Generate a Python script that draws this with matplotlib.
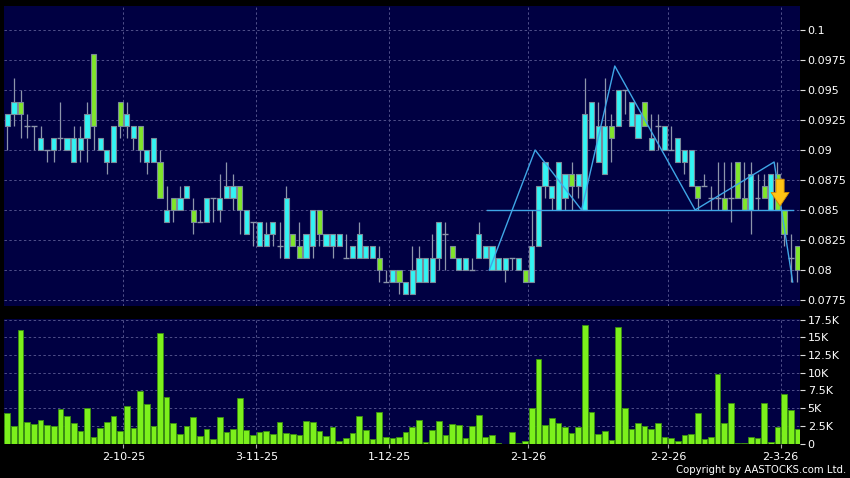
import matplotlib
matplotlib.use('Agg')
import matplotlib.pyplot as plt
import numpy as np

# daily OHLC (HKD), 120 trading days
opens = [0.092, 0.093, 0.094, 0.092, 0.092, 0.090, 0.090, 0.090, 0.091, 0.090,
         0.089, 0.090, 0.091, 0.098, 0.090, 0.089, 0.089, 0.094, 0.092, 0.091,
         0.092, 0.089, 0.089, 0.089, 0.084, 0.086, 0.085, 0.086, 0.085, 0.084,
         0.084, 0.086, 0.085, 0.086, 0.086, 0.087, 0.083, 0.084, 0.082, 0.082,
         0.083, 0.082, 0.081, 0.083, 0.082, 0.081, 0.082, 0.085, 0.082, 0.082,
         0.082, 0.081, 0.081, 0.081, 0.081, 0.081, 0.081, 0.079, 0.079, 0.080,
         0.078, 0.078, 0.079, 0.079, 0.079, 0.081, 0.083, 0.082, 0.080, 0.080,
         0.080, 0.081, 0.081, 0.080, 0.080, 0.080, 0.081, 0.080, 0.080, 0.079,
         0.082, 0.087, 0.086, 0.085, 0.086, 0.088, 0.087, 0.085, 0.091, 0.089,
         0.088, 0.092, 0.092, 0.095, 0.092, 0.091, 0.094, 0.090, 0.092, 0.090,
         0.090, 0.089, 0.089, 0.087, 0.087, 0.087, 0.086, 0.086, 0.086, 0.086,
         0.089, 0.086, 0.085, 0.086, 0.087, 0.085, 0.088, 0.085, 0.081, 0.082]
highs = [0.093, 0.096, 0.095, 0.093, 0.092, 0.092, 0.090, 0.091, 0.094, 0.091,
         0.092, 0.092, 0.094, 0.098, 0.091, 0.090, 0.092, 0.094, 0.094, 0.092,
         0.092, 0.090, 0.091, 0.090, 0.087, 0.086, 0.087, 0.087, 0.086, 0.085,
         0.086, 0.086, 0.088, 0.089, 0.088, 0.087, 0.085, 0.084, 0.084, 0.084,
         0.084, 0.084, 0.087, 0.083, 0.084, 0.083, 0.085, 0.085, 0.083, 0.083,
         0.083, 0.083, 0.082, 0.084, 0.082, 0.082, 0.082, 0.080, 0.080, 0.080,
         0.079, 0.082, 0.082, 0.081, 0.083, 0.084, 0.084, 0.082, 0.081, 0.081,
         0.081, 0.084, 0.082, 0.082, 0.081, 0.081, 0.081, 0.081, 0.080, 0.085,
         0.087, 0.089, 0.087, 0.089, 0.088, 0.089, 0.088, 0.096, 0.094, 0.094,
         0.096, 0.093, 0.095, 0.095, 0.094, 0.093, 0.094, 0.093, 0.093, 0.092,
         0.092, 0.091, 0.090, 0.090, 0.087, 0.088, 0.087, 0.089, 0.089, 0.089,
         0.089, 0.089, 0.089, 0.088, 0.088, 0.088, 0.089, 0.085, 0.083, 0.082]
lows = [0.090, 0.092, 0.091, 0.091, 0.090, 0.090, 0.089, 0.089, 0.090, 0.090,
        0.089, 0.089, 0.089, 0.090, 0.090, 0.088, 0.089, 0.091, 0.091, 0.090,
        0.089, 0.088, 0.089, 0.086, 0.084, 0.084, 0.085, 0.086, 0.083, 0.084,
        0.084, 0.084, 0.084, 0.086, 0.085, 0.083, 0.083, 0.082, 0.082, 0.082,
        0.082, 0.081, 0.081, 0.082, 0.081, 0.081, 0.081, 0.082, 0.082, 0.081,
        0.082, 0.081, 0.081, 0.081, 0.081, 0.081, 0.079, 0.079, 0.079, 0.078,
        0.078, 0.078, 0.079, 0.079, 0.079, 0.080, 0.080, 0.081, 0.080, 0.080,
        0.080, 0.081, 0.081, 0.080, 0.080, 0.079, 0.080, 0.080, 0.079, 0.079,
        0.082, 0.086, 0.085, 0.085, 0.085, 0.085, 0.086, 0.085, 0.091, 0.089,
        0.088, 0.089, 0.092, 0.093, 0.092, 0.091, 0.092, 0.090, 0.090, 0.090,
        0.090, 0.089, 0.088, 0.087, 0.085, 0.087, 0.085, 0.085, 0.085, 0.084,
        0.086, 0.085, 0.083, 0.085, 0.086, 0.085, 0.085, 0.082, 0.079, 0.079]
closes = [0.093, 0.094, 0.093, 0.092, 0.092, 0.091, 0.090, 0.091, 0.091, 0.091,
          0.091, 0.091, 0.093, 0.092, 0.091, 0.090, 0.092, 0.092, 0.093, 0.092,
          0.090, 0.090, 0.091, 0.086, 0.085, 0.085, 0.086, 0.087, 0.084, 0.084,
          0.086, 0.086, 0.086, 0.087, 0.087, 0.085, 0.085, 0.084, 0.084, 0.083,
          0.084, 0.082, 0.086, 0.082, 0.081, 0.083, 0.085, 0.083, 0.083, 0.083,
          0.083, 0.081, 0.082, 0.083, 0.082, 0.082, 0.080, 0.079, 0.080, 0.079,
          0.079, 0.080, 0.081, 0.081, 0.081, 0.084, 0.083, 0.081, 0.081, 0.081,
          0.080, 0.083, 0.082, 0.082, 0.081, 0.081, 0.081, 0.081, 0.079, 0.082,
          0.087, 0.089, 0.087, 0.089, 0.088, 0.087, 0.088, 0.093, 0.094, 0.092,
          0.092, 0.091, 0.095, 0.095, 0.094, 0.093, 0.092, 0.091, 0.092, 0.092,
          0.090, 0.091, 0.090, 0.090, 0.086, 0.087, 0.086, 0.086, 0.085, 0.086,
          0.086, 0.085, 0.088, 0.086, 0.086, 0.088, 0.085, 0.083, 0.081, 0.080]

# volume in thousands of shares
volumes = [4.36, 2.51, 16.07, 3.03, 2.80, 3.36, 2.65, 2.51, 4.93, 3.84,
           2.89, 1.71, 5.02, 0.85, 2.23, 3.03, 3.89, 1.80, 5.26, 2.13,
           7.49, 5.64, 2.51, 15.69, 6.54, 2.84, 1.33, 2.42, 3.79, 1.00,
           2.09, 0.66, 3.74, 1.66, 2.09, 6.49, 1.85, 1.23, 1.56, 1.75,
           1.33, 3.03, 1.42, 1.33, 1.14, 3.13, 2.99, 1.71, 1.09, 2.32,
           0.38, 0.81, 1.52, 3.84, 1.94, 0.62, 4.45, 0.95, 0.71, 0.85,
           1.56, 2.32, 3.36, 0.19, 1.85, 3.13, 1.23, 2.75, 2.56, 0.71,
           2.42, 4.08, 0.85, 1.23, 0.05, 0.00, 1.66, 0.10, 0.33, 5.02,
           12.0, 2.65, 3.60, 2.84, 2.32, 1.52, 2.32, 16.7, 4.40, 1.33,
           1.80, 0.47, 16.4, 4.98, 2.09, 2.84, 2.42, 2.09, 2.94, 0.90,
           0.76, 0.33, 1.18, 1.37, 4.27, 0.62, 0.95, 9.86, 2.94, 5.78,
           0.14, 0.02, 0.85, 0.71, 5.78, 0.19, 2.32, 7.06, 4.74, 2.04]

# date labels and the index of the trading day they belong to
date_labels = ['2-10-25', '3-11-25', '1-12-25', '2-1-26', '2-2-26', '2-3-26']
date_index = [18, 38, 58, 79, 100, 117]

price_ticks = [0.0775, 0.08, 0.0825, 0.085, 0.0875, 0.09, 0.0925, 0.095, 0.0975, 0.1]
price_labels = ['0.0775', '0.08', '0.0825', '0.085', '0.0875', '0.09', '0.0925', '0.095', '0.0975', '0.1']
vol_ticks = [0, 2.5, 5, 7.5, 10, 12.5, 15, 17.5]
vol_labels = ['0', '2.5K', '5K', '7.5K', '10K', '12.5K', '15K', '17.5K']

# pattern drawing (index, price)
zigzag_x = [72.6, 79.5, 86.5, 91.5, 103.6, 115.5, 118.3]
zigzag_y = [0.080, 0.090, 0.085, 0.097, 0.085, 0.089, 0.079]
neck_x = [72.3, 118.4]
neck_y = [0.085, 0.085]
arrow_x = 116.4
arrow_top, arrow_tip = 0.0878, 0.0851

BG = '#000042'
UP = '#33f3f3'
DOWN = '#80e62a'
WICK = '#8d95aa'
GRID = '#50508a'

fig = plt.figure(figsize=(8.5, 4.78), dpi=100, facecolor='black')
ax = fig.add_axes([4 / 850, 1 - 306 / 478, 796 / 850, 300 / 478], facecolor=BG)
axv = fig.add_axes([4 / 850, 1 - 443.5 / 478, 796 / 850, 124.5 / 478], facecolor=BG)

x = np.arange(len(opens))
o = np.array(opens)
c = np.array(closes)
h = np.array(highs)
l = np.array(lows)

ax.vlines(x, l, h, color=WICK, lw=0.9, zorder=2)
up = c > o
dn = c < o
dj = c == o
ax.bar(x[up], (c - o)[up], bottom=o[up], width=0.78, color=UP,
       edgecolor='#7a8a9a', linewidth=0.8, zorder=3)
ax.bar(x[dn], (o - c)[dn], bottom=c[dn], width=0.78, color=DOWN,
       edgecolor='#7a8a9a', linewidth=0.8, zorder=3)
ax.hlines(c[dj], x[dj] - 0.45, x[dj] + 0.45, color=WICK, lw=1.0, zorder=3)

ax.plot(zigzag_x, zigzag_y, color='#3fa6e6', lw=1.0, zorder=4)
ax.plot(neck_x, neck_y, color='#3fa6e6', lw=1.0, zorder=4)
ax.annotate('', xy=(arrow_x, arrow_tip), xytext=(arrow_x, arrow_top),
            arrowprops=dict(arrowstyle='simple,head_width=1.0,head_length=0.75,tail_width=0.45',
                            mutation_scale=13, fc='#ffc414', ec='#d08a00', lw=0.6), zorder=5)

axv.bar(x, volumes, width=0.85, color='#7cf01c', edgecolor='#3a9010', linewidth=0.6, zorder=3)

tick_pos = [i - 0.5 for i in date_index]
for a in (ax, axv):
    a.set_xlim(-0.5, 119.4)
    for s in a.spines.values():
        s.set_visible(False)
    a.set_xticks(tick_pos)
    a.grid(True, color=GRID, linestyle=(0, (2.5, 2.5)), linewidth=0.7, zorder=0)
    a.set_axisbelow(True)
    a.yaxis.tick_right()
    a.tick_params(axis='y', colors='#dddddd', labelcolor='white', length=3.5, width=0.8,
                  pad=2, labelsize=8)

ax.set_ylim(0.077, 0.102)
ax.set_yticks(price_ticks)
ax.set_yticklabels(price_labels)
ax.tick_params(axis='x', length=0, labelbottom=False)

axv.set_ylim(0, 17.6)
axv.set_yticks(vol_ticks)
axv.set_yticklabels(vol_labels)
axv.set_xticklabels(date_labels)
axv.tick_params(axis='x', colors='#aaaaaa', labelcolor='white', length=3, width=0.8,
                pad=3, labelsize=8)

fig.text(0.995, 0.006, 'Copyright by AASTOCKS.com Ltd.', ha='right', va='bottom',
         color='white', fontsize=7.3)

fig.savefig('out.png', dpi=100, facecolor='black')
